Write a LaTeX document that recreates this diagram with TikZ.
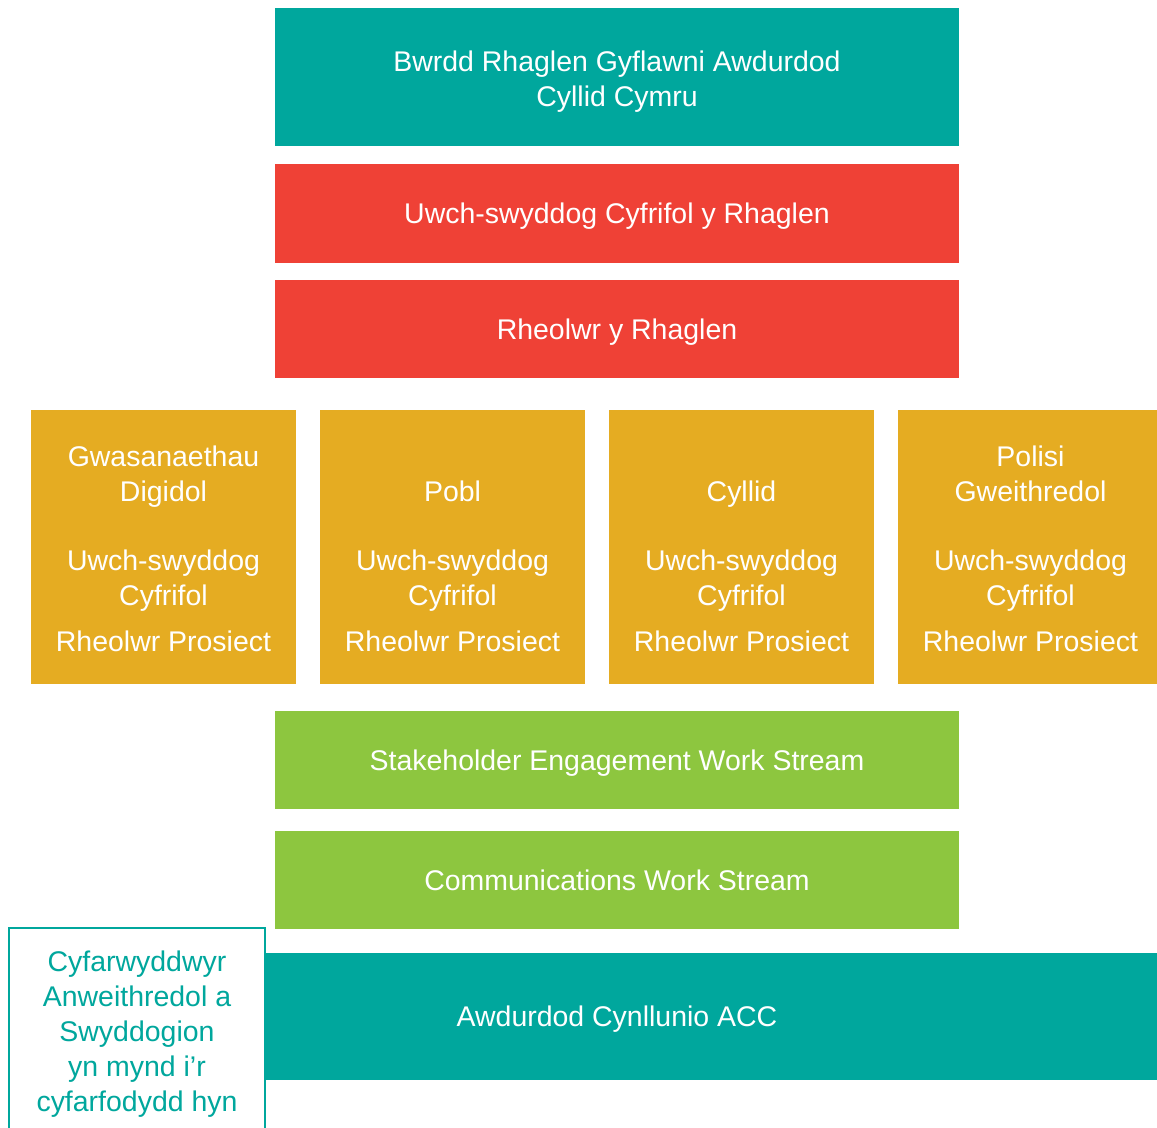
\documentclass[tikz,border=0pt]{standalone}
\usepackage{fontspec}
\setmainfont{Liberation Sans}
\definecolor{acteal}{HTML}{00A79D}
\definecolor{acred}{HTML}{EF4136}
\definecolor{acorange}{HTML}{E5AC22}
\definecolor{acgreen}{HTML}{8DC63F}
\begin{document}
\begin{tikzpicture}[x=0.02cm, y=-0.02cm,
    every node/.style={inner sep=0, outer sep=0, align=center, text depth=0pt,
      font=\fontsize{16.2pt}{19.9pt}\selectfont},
    block/.style={fill=#1, text=white, minimum height=1.96cm, minimum width=13.68cm},
    team/.style={fill=acorange, text=white, minimum width=5.3cm, minimum height=5.48cm}]
    \useasboundingbox (0, 0) rectangle (1157, 1128);

    % Board
    \node [block=acteal, minimum height=2.76cm] (board) at (617, 77)
      {\strut Bwrdd Rhaglen Gyflawni Awdurdod\\Cyllid Cymru};

    % Programme roles
    \node [block=acred, minimum height=1.98cm] (sro) at (617, 213.5)
      {Uwch-swyddog Cyfrifol y Rhaglen};
    \node [block=acred] (pm) at (617, 329) {Rheolwr y Rhaglen};

    % Projects
    \foreach \x/\name/\ttl in {163.5/digi/{Gwasanaethau\\Digidol},
                               452.5/pobl/{\\Pobl},
                               741.5/cyllid/{\\Cyllid},
                               1030.5/polisi/{Polisi\\Gweithredol}}
      \node [team] (\name) at (\x, 547)
        {\strut\ttl\\[0.68cm]Uwch-swyddog\\Cyfrifol\\[0.22cm]Rheolwr Prosiect};

    % Work streams
    \node [block=acgreen] (stake) at (617, 760) {Stakeholder Engagement Work Stream};
    \node [block=acgreen] (comms) at (617, 880) {Communications Work Stream};

    % Planning authority
    \node [block=acteal, minimum width=21.6cm, minimum height=2.54cm] (acc) at (617, 1016.5)
      {Awdurdod Cynllunio ACC};

    % Attendees
    \node [draw=acteal, line width=1.1pt, fill=white, text=acteal,
      minimum width=5.12cm, minimum height=4.12cm] (attend) at (137, 1031)
      {Cyfarwyddwyr\\Anweithredol a\\Swyddogion\\yn mynd i’r\\cyfarfodydd hyn};
  \end{tikzpicture}
\end{document}
